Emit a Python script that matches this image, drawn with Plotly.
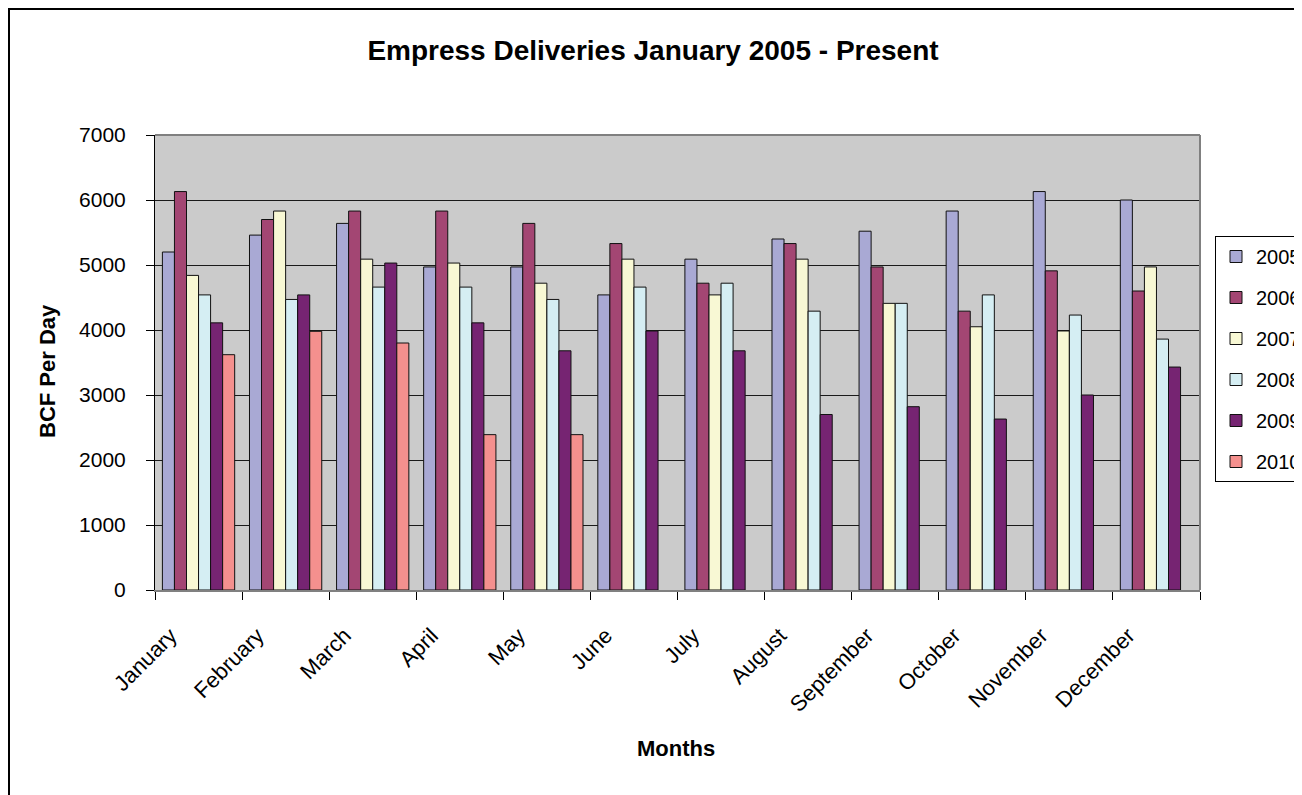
import plotly.graph_objects as go

months = ["January", "February", "March", "April", "May", "June", "July",
          "August", "September", "October", "November", "December"]

y2005 = [5200, 5460, 5640, 4970, 4970, 4540, 5090, 5400, 5520, 5830, 6130, 6000]
y2006 = [6130, 5700, 5830, 5830, 5640, 5330, 4720, 5330, 4970, 4290, 4910, 4600]
y2007 = [4840, 5830, 5090, 5030, 4720, 5090, 4540, 5090, 4410, 4050, 3985, 4970]
y2008 = [4540, 4470, 4660, 4660, 4470, 4660, 4720, 4290, 4410, 4540, 4230, 3860]
y2009 = [4110, 4540, 5030, 4110, 3680, 3985, 3680, 2700, 2820, 2630, 3000, 3430]
y2010 = [3620, 3980, 3800, 2390, 2390, None, None, None, None, None, None, None]

series = [
    ("2005", y2005, "#a9a9d4"),
    ("2006", y2006, "#a34673"),
    ("2007", y2007, "#f8f8d4"),
    ("2008", y2008, "#d5eef3"),
    ("2009", y2009, "#762472"),
    ("2010", y2010, "#f4908e"),
]

y_ticks = [0, 1000, 2000, 3000, 4000, 5000, 6000, 7000]

FONT = "Arial, Liberation Sans, sans-serif"

# The page body adds an 8px offset; the figure is sized so it ends at the window edge.
W, H = 1294, 787
L, T = 147, 127
PW, PH = 1045, 455

fig = go.Figure()
for name, vals, color in series:
    fig.add_trace(go.Bar(
        name=name, x=months, y=vals, legendgroup=name,
        marker=dict(color=color, line=dict(color="#111111", width=1)),
    ))

fig.update_layout(
    template="none",
    width=W, height=H,
    margin=dict(l=L, r=W - L - PW, t=T, b=H - T - PH, autoexpand=False),
    paper_bgcolor="white",
    plot_bgcolor="#cbcbcb",
    barmode="group",
    bargap=0.17,
    bargroupgap=0,
    font=dict(family=FONT, size=21, color="black"),
    title=dict(
        text="<b>Empress Deliveries January 2005 - Present</b>",
        x=645 / W, xref="container", xanchor="center",
        y=1 - 42 / H, yref="container", yanchor="middle",
        font=dict(family=FONT, size=28, color="black"),
    ),
    legend=dict(
        x=(1215 - 155) / PW, xanchor="left",
        y=(590 - 236) / PH, yanchor="top",
        bordercolor="black", borderwidth=1, bgcolor="white",
        font=dict(family=FONT, size=20, color="black"),
        tracegroupgap=12,
    ),
    xaxis=dict(
        type="category",
        showgrid=False,
        showline=True, linecolor="#808080", linewidth=2,
        mirror=False,
        ticks="outside", tickson="boundaries", ticklen=8, tickcolor="black",
        tickangle=-45,
        tickfont=dict(family=FONT, size=22, color="black"),
        ticklabelshift=-28,
        ticklabelstandoff=22,
        automargin=False,
        zeroline=False,
    ),
    yaxis=dict(
        range=[0, 7000],
        tickvals=y_ticks,
        showgrid=True, gridcolor="#1a1a1a", gridwidth=1,
        showline=True, linecolor="black", linewidth=1,
        ticks="outside", ticklen=8, tickcolor="black",
        tickfont=dict(family=FONT, size=21, color="black"),
        ticklabelstandoff=16,
        automargin=False,
        zeroline=False,
    ),
    annotations=[
        dict(text="<b>BCF Per Day</b>", xref="paper", yref="paper",
             x=(47 - 155) / PW, y=(590 - 371) / PH, textangle=-90,
             showarrow=False, xanchor="center", yanchor="middle",
             font=dict(family=FONT, size=22, color="black")),
        dict(text="<b>Months</b>", xref="paper", yref="paper",
             x=(676 - 155) / PW, y=(590 - 748) / PH,
             showarrow=False, xanchor="center", yanchor="middle",
             font=dict(family=FONT, size=22, color="black")),
    ],
    shapes=[
        # plot area top and right border (grey)
        dict(type="line", xref="paper", yref="paper", x0=0, x1=1, y0=1, y1=1,
             line=dict(color="#808080", width=2)),
        dict(type="line", xref="paper", yref="paper", x0=1, x1=1, y0=0, y1=1,
             line=dict(color="#808080", width=2)),
        # outer chart border (left and top edges visible)
        dict(type="rect", xref="paper", yref="paper",
             x0=(1 - L) / PW, x1=(W + 20 - L) / PW,
             y0=(T + PH - (H + 20)) / PH, y1=(T + PH - 1) / PH,
             line=dict(color="black", width=2), layer="below"),
    ],
)

fig.write_html("out.html")
